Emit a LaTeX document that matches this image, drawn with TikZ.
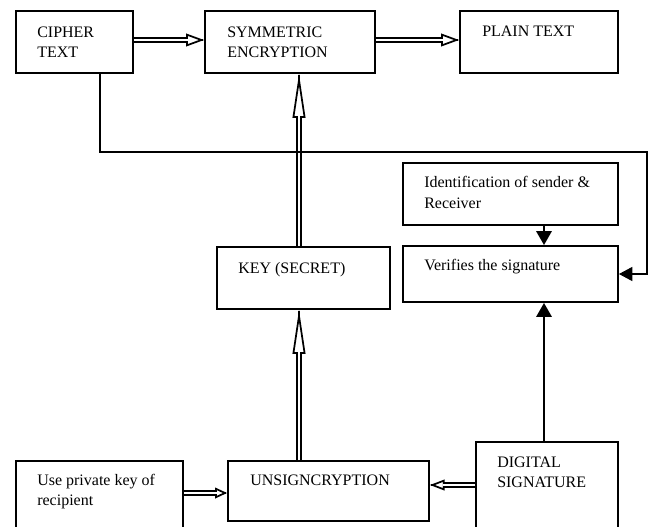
\documentclass[tikz,border=0pt]{standalone}
\usepackage{fontspec}
\setmainfont{Liberation Serif}
\usetikzlibrary{arrows.meta,calc,fit}

% hollow double-line arrow: #1 start, #2 end, #3 head length, #4 head width
\newcommand\hollowarrow[4]{%
  \draw[headline, -{Triangle[open,fill=white,length=#3,width=#4]}]
    ($(#2)!0.5pt!(#1)$) -- (#2);
  \draw[shaft, shorten >={#3-1.3pt}] (#1) -- (#2);
}

\begin{document}
\begin{tikzpicture}[x=0.75pt,y=-0.75pt,
  box/.style={draw, line width=1.4pt, inner sep=0pt},
  lbl/.style={inner sep=0pt, anchor=base west, font=\fontsize{12}{15}\selectfont},
  shaft/.style={draw, line width=1.3pt, double=white, double distance=2.2pt, line cap=butt},
  headline/.style={line width=1.3pt, line join=miter},
  solidarrow/.style={line width=1.7pt, -{Triangle[length=10.5pt,width=11.5pt]}},
  loopline/.style={line width=0.85pt, -{Triangle[length=10pt,width=10.5pt]}}]

\clip (0,0) rectangle (653,526);

% boxes
\node[box, fit={(16,11) (133,73)}]    (cipher) {};
\node[box, fit={(205,11) (375,73)}]   (sym) {};
\node[box, fit={(460,11) (618,73)}]   (plain) {};
\node[box, fit={(403,163) (618,225)}] (ident) {};
\node[box, fit={(403,246) (618,302)}] (verif) {};
\node[box, fit={(217,247) (390,309)}] (key) {};
\node[box, fit={(16,461) (183,545)}]  (priv) {};
\node[box, fit={(228,461) (429,521)}] (unsign) {};
\node[box, fit={(476,442) (618,545)}] (dig) {};

% labels
\node[lbl] (t1)  at (37,37)   {CIPHER};
\node[lbl] (t2)  at (37,57)   {TEXT};
\node[lbl] (t3)  at (227,37)  {SYMMETRIC};
\node[lbl] (t4)  at (227,57)  {ENCRYPTION};
\node[lbl] (t5)  at (482,36)  {PLAIN TEXT};
\node[lbl] (t6)  at (424,187) {Identification of sender \&};
\node[lbl] (t7)  at (424,208) {Receiver};
\node[lbl] (t8)  at (424,270) {Verifies the signature};
\node[lbl] (t9)  at (238,273) {KEY (SECRET)};
\node[lbl] (t10) at (37,485)  {Use private key of};
\node[lbl] (t11) at (37,505)  {recipient};
\node[lbl] (t12) at (250,485) {UNSIGNCRYPTION};
\node[lbl] (t13) at (497,467) {DIGITAL};
\node[lbl] (t14) at (497,487) {SIGNATURE};

% reference lines for connectors
\coordinate (kx) at (299,0);
\coordinate (vx) at (544,0);
\coordinate (lx) at (100,0);
\coordinate (rx) at (647,0);
\coordinate (ly) at (0,152);

\coordinate (a1) at (cipher.east |- 0,40);
\coordinate (a2) at (sym.west |- 0,40);
\coordinate (b1) at (sym.east |- 0,40);
\coordinate (b2) at (plain.west |- 0,40);
\coordinate (c1) at (kx |- key.north);
\coordinate (c2) at (kx |- sym.south);
\coordinate (d1) at (kx |- unsign.north);
\coordinate (d2) at (kx |- key.south);
\coordinate (e1) at (priv.east |- 0,493);
\coordinate (e2) at (unsign.west |- 0,493);
\coordinate (f1) at (dig.west |- 0,485);
\coordinate (f2) at (unsign.east |- 0,485);

% double-line arrows
\hollowarrow{a1}{a2}{13.5pt}{9.5pt}
\hollowarrow{b1}{b2}{13.5pt}{9.5pt}
\hollowarrow{c1}{c2}{33pt}{9.5pt}
\hollowarrow{d1}{d2}{33pt}{9.5pt}
\hollowarrow{e1}{e2}{9pt}{8pt}
\hollowarrow{f1}{f2}{11pt}{8pt}

% solid arrows
\draw[solidarrow] (vx |- ident.south) -- (vx |- verif.north);
\draw[solidarrow] (vx |- dig.north) -- (vx |- verif.south);
\draw[loopline] (lx |- cipher.south) -- (lx |- ly) -- (rx |- ly) |- (verif.east);

\end{tikzpicture}
\end{document}
